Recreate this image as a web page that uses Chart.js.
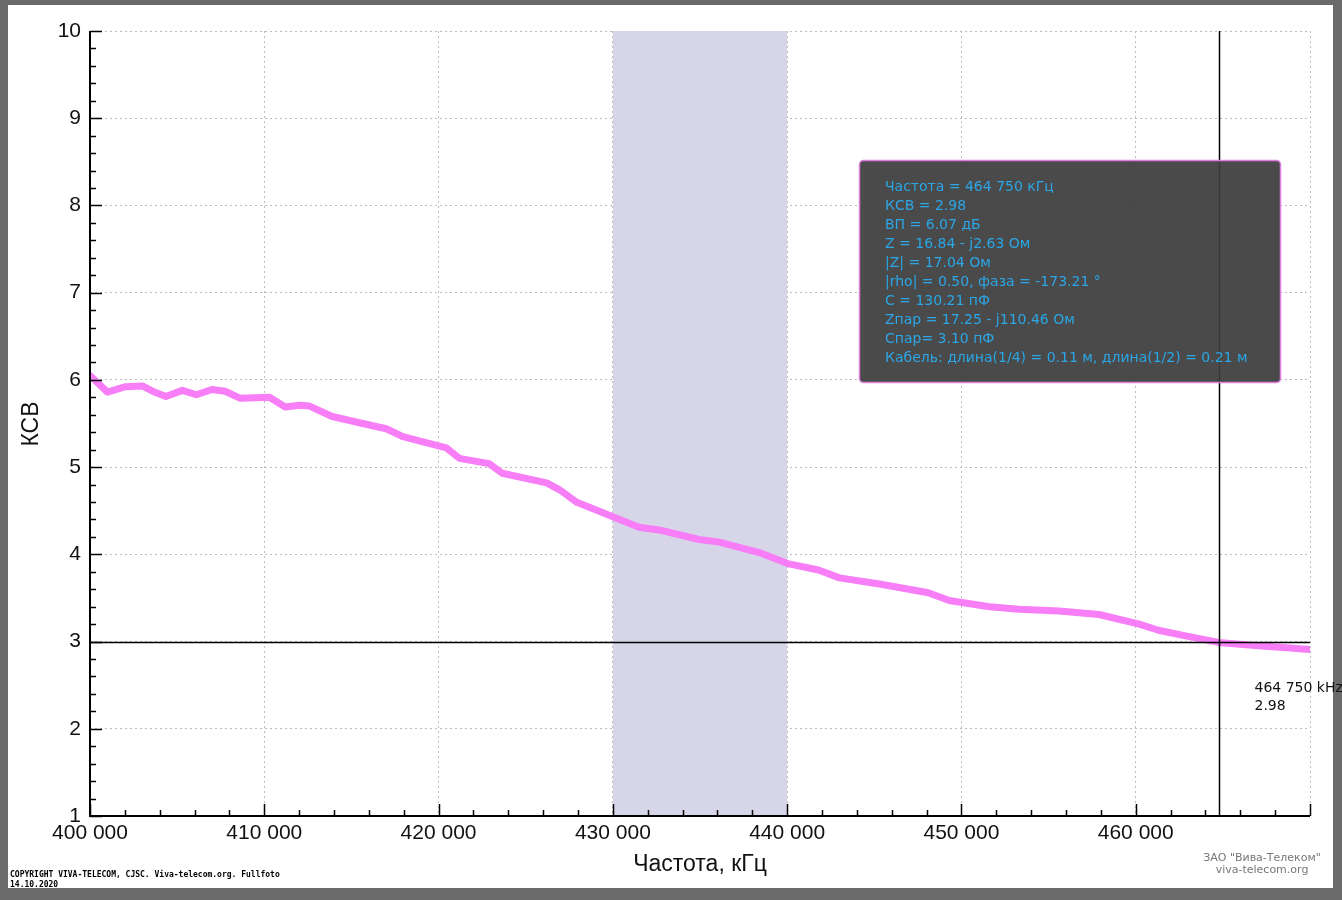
<!DOCTYPE html>
<html>
<head>
<meta charset="utf-8">
<script src="https://cdn.jsdelivr.net/npm/chart.js@4"></script>
<style>
  html, body { margin: 0; padding: 0; background: #6b6b6b; }
  #wrap { position: absolute; left: 0; top: 0; width: 1342px; height: 900px; }
</style>
</head>
<body>
<div id="wrap"><canvas id="chart" width="1342" height="900"></canvas></div>
<script>
// kHz
const freqs = [400000, 401000, 402000, 403000, 403700, 404350, 405300, 406100, 407000, 407750,
  408600, 410300, 411200, 412050, 412600, 413900, 415650, 417000, 417950, 419500,
  420450, 421200, 422900, 423650, 426200, 426950, 427900, 430000, 431500, 432650,
  434950, 436100, 438400, 440100, 441800, 443000, 445300, 448100, 449300, 451600,
  453300, 455600, 457900, 460200, 461300, 463000, 464750, 466500, 470000];
const vswr = [6.05, 5.86, 5.92, 5.93, 5.86, 5.81, 5.88, 5.83, 5.89, 5.87,
  5.79, 5.80, 5.69, 5.71, 5.70, 5.58, 5.50, 5.44, 5.35, 5.27,
  5.22, 5.10, 5.04, 4.93, 4.82, 4.74, 4.60, 4.43, 4.31, 4.28,
  4.17, 4.14, 4.02, 3.89, 3.82, 3.73, 3.66, 3.56, 3.47, 3.40,
  3.37, 3.35, 3.31, 3.20, 3.13, 3.06, 2.99, 2.96, 2.91];
const xTicks = [400000, 410000, 420000, 430000, 440000, 450000, 460000];
const yTicks = [1, 2, 3, 4, 5, 6, 7, 8, 9, 10];
const band = [430000, 440000];
const markerFreq = 464750;
const refLevel = 3;
const infoLines = [
  "Частота = 464 750 кГц",
  "КСВ = 2.98",
  "ВП = 6.07 дБ",
  "Z = 16.84 - j2.63 Ом",
  "|Z| = 17.04 Ом",
  "|rho| = 0.50, фаза = -173.21 °",
  "C = 130.21 пФ",
  "Zпар = 17.25 - j110.46 Ом",
  "Спар= 3.10 пФ",
  "Кабель: длина(1/4) = 0.11 м, длина(1/2) = 0.21 м"
];

const fmt = (v) => String(v).replace(/\B(?=(\d{3})+(?!\d))/g, " ");

/* ---------- Frame, band, lines, ticks, texts ---------- */
const decor = {
  id: "decor",
  beforeDraw(chart) {
    const c = chart.ctx;
    c.save();
    c.fillStyle = "#6b6b6b";
    c.fillRect(0, 0, 1342, 900);
    c.fillStyle = "#ffffff";
    c.fillRect(8, 5, 1325, 883);
    c.restore();
  },
  beforeDatasetsDraw(chart) {
    const c = chart.ctx, x = chart.scales.x, a = chart.chartArea;
    c.save();
    c.fillStyle = "#d6d6e8";
    c.fillRect(x.getPixelForValue(band[0]), a.top, x.getPixelForValue(band[1]) - x.getPixelForValue(band[0]), a.bottom - a.top);
    c.restore();
  },
  afterDatasetsDraw(chart) {
    const c = chart.ctx, x = chart.scales.x, y = chart.scales.y, a = chart.chartArea;
    c.save();
    c.strokeStyle = "#000";
    c.lineWidth = 1.5;
    // reference level and marker
    const yr = Math.round(y.getPixelForValue(refLevel)) + 0.5;
    c.beginPath(); c.moveTo(a.left, yr); c.lineTo(a.right, yr); c.stroke();
    const xm = Math.round(x.getPixelForValue(markerFreq)) + 0.5;
    c.beginPath(); c.moveTo(xm, a.top); c.lineTo(xm, a.bottom); c.stroke();
    // axes
    c.lineWidth = 2;
    c.beginPath(); c.moveTo(a.left, a.top); c.lineTo(a.left, a.bottom); c.lineTo(a.right, a.bottom); c.stroke();
    c.lineWidth = 1.5;
    for (let v = 1; v <= 10.001; v += 0.2) {
      const p = Math.round(y.getPixelForValue(v)) + 0.5;
      const major = Math.abs(v - Math.round(v)) < 0.01;
      c.beginPath(); c.moveTo(a.left, p); c.lineTo(a.left + (major ? 12 : 6), p); c.stroke();
    }
    for (let v = 400000; v <= 470000; v += 2000) {
      const p = Math.round(x.getPixelForValue(v)) + 0.5;
      const major = v % 10000 === 0;
      c.beginPath(); c.moveTo(p, a.bottom); c.lineTo(p, a.bottom - (major ? 12 : 6)); c.stroke();
    }
    // tick labels
    c.fillStyle = "#111";
    c.font = "21px 'Liberation Sans'";
    c.textAlign = "right"; c.textBaseline = "middle";
    yTicks.forEach((v) => c.fillText(String(v), a.left - 9, y.getPixelForValue(v)));
    c.textAlign = "center"; c.textBaseline = "top";
    xTicks.forEach((v) => c.fillText(fmt(v), x.getPixelForValue(v), a.bottom + 7));
    // axis titles
    c.font = "23px 'Liberation Sans'";
    c.fillText("Частота, кГц", 700, 853);
    c.save();
    c.translate(32, 424); c.rotate(-Math.PI / 2);
    c.textBaseline = "middle";
    c.fillText("КСВ", 0, 0);
    c.restore();
    // marker label
    c.font = "14px 'DejaVu Sans'";
    c.textAlign = "left"; c.textBaseline = "middle";
    c.fillText(fmt(markerFreq) + " kHz", xm + 35, 688);
    c.fillText("2.98", xm + 35, 706);
    // info box
    c.fillStyle = "rgba(60,60,60,0.93)";
    c.strokeStyle = "#e07ee0";
    c.lineWidth = 1.5;
    c.beginPath(); c.roundRect(859.5, 160.5, 421, 222, 4); c.fill(); c.stroke();
    c.fillStyle = "#2ba6e6";
    c.font = "14px 'DejaVu Sans'";
    infoLines.forEach((t, i) => c.fillText(t, 885, 187 + i * 19));
    // watermark
    c.fillStyle = "#777";
    c.font = "11px 'DejaVu Sans'";
    c.textAlign = "center";
    c.fillText("ЗАО \"Вива-Телеком\"", 1262, 858);
    c.fillText("viva-telecom.org", 1262, 870);
    // copyright
    c.fillStyle = "#000";
    c.font = "bold 8px 'DejaVu Sans Mono'";
    c.textAlign = "left";
    c.fillText("COPYRIGHT VIVA-TELECOM, CJSC. Viva-telecom.org. Fullfoto", 10, 875);
    c.fillText("14.10.2020", 10, 885);
    c.restore();
  }
};

new Chart(document.getElementById("chart"), {
  type: "line",
  data: {
    datasets: [{
      data: freqs.map((f, i) => ({ x: f, y: vswr[i] })),
      borderColor: "#f77ef7",
      borderWidth: 7,
      pointRadius: 0,
      tension: 0,
      borderCapStyle: "round",
      borderJoinStyle: "round"
    }]
  },
  options: {
    responsive: false,
    animation: false,
    layout: { padding: { top: 31, right: 32, left: 0, bottom: 0 } },
    plugins: { legend: { display: false }, tooltip: { enabled: false } },
    scales: {
      x: {
        type: "linear", min: 400000, max: 470000,
        ticks: { stepSize: 10000, display: false },
        grid: { color: "#bdbdbd", drawTicks: false },
        border: { display: false, dash: [2, 3] },
        afterFit: (s) => { s.height = 84; }
      },
      y: {
        min: 1, max: 10,
        ticks: { stepSize: 1, display: false },
        grid: { color: "#bdbdbd", drawTicks: false },
        border: { display: false, dash: [2, 3] },
        afterFit: (s) => { s.width = 90; }
      }
    }
  },
  plugins: [decor]
});
</script>
</body>
</html>
